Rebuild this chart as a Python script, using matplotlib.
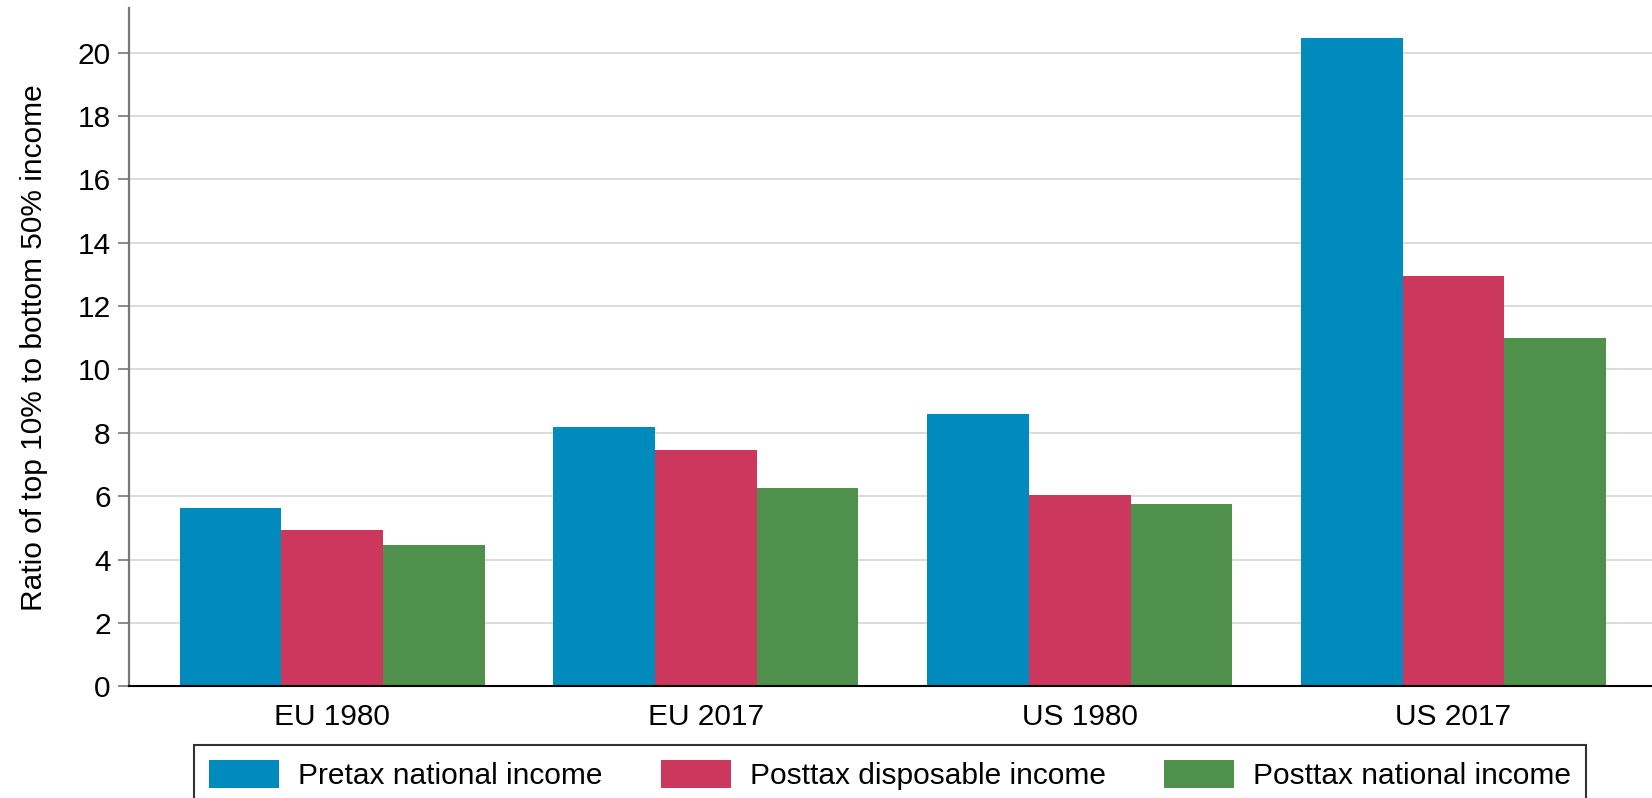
import numpy as np
import matplotlib.pyplot as plt

plt.rcParams['font.family'] = ['Liberation Sans', 'DejaVu Sans']

groups = ['EU 1980', 'EU 2017', 'US 1980', 'US 2017']
series = ['Pretax national income', 'Posttax disposable income', 'Posttax national income']
pretax = [5.62, 8.18, 8.60, 20.45]
posttax_disp = [4.93, 7.45, 6.03, 12.94]
posttax_nat = [4.46, 6.26, 5.76, 10.99]
colors = ['#008bbc', '#cc385d', '#4f904d']

fs = 21.5

fig = plt.figure(figsize=(16.52, 7.98), dpi=100)
ax = fig.add_axes([128.7 / 1652, 1 - 686.3 / 798, (1652 - 128.7) / 1652, (686.3 - 8.3) / 798])

x = np.arange(len(groups))
w = 0.272
for i, (vals, lab, c) in enumerate(zip([pretax, posttax_disp, posttax_nat], series, colors)):
    ax.bar(x + (i - 1) * w, vals, width=w, color=c, label=lab, zorder=2)

ax.set_xlim(-0.544, 3.531)
ax.set_ylim(0, 21.4)
ax.set_yticks(range(0, 21, 2))
ax.set_xticks(x)
ax.set_xticklabels(groups)
ax.grid(axis='y', color='#d9d9d9', linewidth=1.3, zorder=0)
ax.set_axisbelow(True)

for s in ['top', 'right']:
    ax.spines[s].set_visible(False)
ax.spines['left'].set_color('#777777')
ax.spines['left'].set_linewidth(1.6)
ax.spines['bottom'].set_color('black')
ax.spines['bottom'].set_linewidth(1.5)
ax.tick_params(axis='y', length=8, width=1.2, color='#777777', pad=5, labelsize=fs)
ax.tick_params(axis='x', length=0, pad=12, labelsize=fs)
ax.set_ylabel('Ratio of top 10% to bottom 50% income', fontsize=fs, labelpad=21)

leg = ax.legend(loc='upper center', bbox_to_anchor=(0.5, -0.0866), ncol=3, fontsize=fs,
                frameon=True, fancybox=False, edgecolor='black', borderaxespad=0,
                handlelength=2.34, handleheight=1.07, handletextpad=0.64,
                columnspacing=1.95, borderpad=0.5)
leg.get_frame().set_linewidth(1.5)

fig.savefig('out.png', dpi=100)
